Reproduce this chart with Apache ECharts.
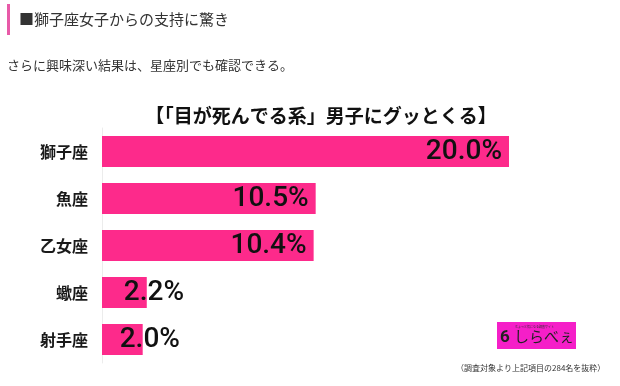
<!DOCTYPE html>
<html><head><meta charset="utf-8">
<script src="https://cdn.jsdelivr.net/npm/echarts@6/dist/echarts.min.js"></script>
<style>html,body{margin:0;padding:0;background:#fff}#c{width:620px;height:386px}</style>
</head><body><div id="c"></div>
<script>
const categories = ['獅子座', '魚座', '乙女座', '蠍座', '射手座'];
const values = [20.0, 10.5, 10.4, 2.2, 2.0];
const chartTitle = '【「目が死んでる系」男子にグッとくる】';
const headerText = '■獅子座女子からの支持に驚き';
const leadText = 'さらに興味深い結果は、星座別でも確認できる。';
const noteText = '（調査対象より上記項目の284名を抜粋）';

const jp = '"Noto Sans CJK JP", sans-serif';
const num = 'Roboto, "Liberation Sans", Arial, sans-serif';

const data = values.map(v => {
  const item = { value: v };
  if (v < 5) {
    item.label = { position: 'right', offset: [-30, 0] };
  }
  return item;
});

const chart = echarts.init(document.getElementById('c'), null, { renderer: 'canvas' });
chart.setOption({
  animation: false,
  backgroundColor: '#fff',
  title: {
    text: chartTitle, left: 316, textAlign: 'center', top: 101,
    textStyle: { fontFamily: jp, fontSize: 19, fontWeight: 'bold', color: '#111' }
  },
  grid: { left: 102, top: 128, width: 407, height: 235 },
  xAxis: {
    type: 'value', min: 0, max: 20, show: false
  },
  yAxis: {
    type: 'category', data: categories, inverse: true,
    axisLine: { show: true, lineStyle: { color: '#ececec', width: 1 } },
    axisTick: { show: false },
    axisLabel: { margin: 14, fontFamily: jp, fontSize: 16, fontWeight: 'bold', color: '#1a1a1a' }
  },
  series: [{
    type: 'bar', data: data, barWidth: 31,
    itemStyle: { color: '#fd2a8b' },
    label: {
      show: true, position: 'insideRight', distance: 7,
      formatter: p => p.value.toFixed(1) + '%',
      fontFamily: num, fontSize: 28, fontWeight: 500, color: '#111'
    }
  }],
  graphic: [
    { type: 'rect', shape: { x: 7, y: 4, width: 3, height: 31 }, style: { fill: '#e85aa8' } },
    { type: 'text', left: 19, top: 12, style: { text: headerText, font: '15px ' + jp, fill: '#333' } },
    { type: 'text', left: 7, top: 59, style: { text: leadText, font: '13px ' + jp, fill: '#333' } },
    { type: 'rect', shape: { x: 497, y: 322, width: 79, height: 27 }, style: { fill: '#f51fc8' } },
    { type: 'text', left: 515, top: 325, style: { text: 'ちょっと気になる調査サイト', font: '3px ' + jp, fill: '#333' } },
    { type: 'text', left: 500, top: 329, style: { text: '6', font: 'bold 17px ' + num, fill: '#222' } },
    { type: 'text', left: 514, top: 329, style: { text: 'しらべぇ', font: '15px ' + jp, fill: '#222' } },
    { type: 'text', left: 456, top: 364, style: { text: noteText, font: '8px ' + jp, fill: '#333' } }
  ]
});
</script></body></html>
